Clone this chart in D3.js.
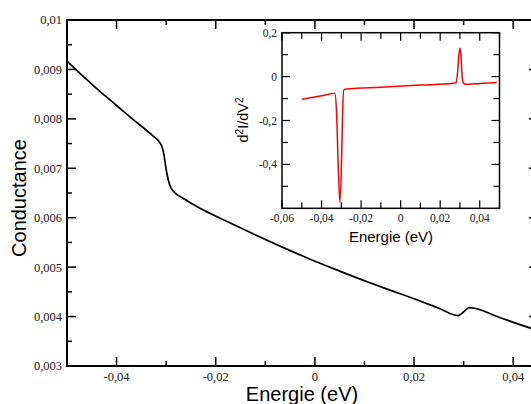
<!DOCTYPE html>
<html><head><meta charset="utf-8">
<script src="https://cdn.jsdelivr.net/npm/d3@7"></script>
<style>
body{margin:0;background:#fff;} svg{display:block;}
.tl{font-family:"Liberation Serif","Times New Roman","DejaVu Serif",serif;fill:#222;}
.al{font-family:"Liberation Sans",Arial,sans-serif;fill:#000;}
</style>
</head><body>
<svg id="c" width="531" height="404"></svg>
<script>
// Main chart data: Conductance vs Energie (eV)
const mainEnergy = [-0.05, -0.0465, -0.0433, -0.04, -0.0367, -0.034, -0.0326, -0.0316, -0.0309, -0.0305, -0.0299, -0.0292, -0.0285, -0.0265, -0.023, -0.0191, -0.013, -0.006, 0, 0.005, 0.0104, 0.015, 0.02, 0.025, 0.0289, 0.0296, 0.0304, 0.0311, 0.0321, 0.037, 0.0437, 0.045];
const mainConductance = [0.00917, 0.00884, 0.00855, 0.00827, 0.00799, 0.00777, 0.00765, 0.00756, 0.00745, 0.0073, 0.00692, 0.00664, 0.00653, 0.00639, 0.00618, 0.00599, 0.0057, 0.00538, 0.00512, 0.00492, 0.00471, 0.00454, 0.00436, 0.00417, 0.00402, 0.00406, 0.00413, 0.00418, 0.00417, 0.00399, 0.00376, 0.00372];
// Inset data: d2I/dV2 vs Energie (eV)
const insetEnergy = [-0.05, -0.04, -0.0333, -0.0324, -0.0316, -0.0307, -0.0299, -0.0294, -0.0287, -0.0273, -0.01, 0.01, 0.0265, 0.028, 0.0288, 0.0295, 0.03, 0.0305, 0.0311, 0.0318, 0.0326, 0.04, 0.0486];
const insetValue = [-0.103, -0.087, -0.0755, -0.166, -0.394, -0.573, -0.394, -0.182, -0.060, -0.057, -0.0485, -0.0387, -0.0305, -0.028, 0.02, 0.10, 0.129, 0.10, 0.0, -0.03, -0.035, -0.031, -0.027];

const mainXTicks = [-0.04, -0.02, 0, 0.02, 0.04];
const mainXMinor = [-0.05, -0.03, -0.01, 0.01, 0.03];
const mainYTicks = [0.003, 0.004, 0.005, 0.006, 0.007, 0.008, 0.009, 0.01];
const mainYMinor = [0.0035, 0.0045, 0.0055, 0.0065, 0.0075, 0.0085, 0.0095];
const insetXTicks = [-0.06, -0.04, -0.02, 0, 0.02, 0.04];
const insetXMinor = [-0.05, -0.03, -0.01, 0.01, 0.03, 0.05];
const insetYTicks = [0.2, 0, -0.2, -0.4];
const insetYMinor = [0.1, -0.1, -0.3, -0.5];

const fmt = v => { if (Math.abs(v) < 1e-12) return "0"; return (+v.toFixed(4)).toString().replace(".", ","); };

const svg = d3.select("#c");

// ---------- Main chart ----------
const mL = 67, mR = 538, mT = 20, mB = 366;
const x = d3.scaleLinear().domain([-0.05, 0.045]).range([mL, mR]);
const y = d3.scaleLinear().domain([0.003, 0.01]).range([mB, mT]);

svg.append("defs").append("clipPath").attr("id","mclip").append("rect")
  .attr("x", mL).attr("y", mT).attr("width", mR - mL).attr("height", mB - mT);

const mainData = mainEnergy.map((e,i)=>[e, mainConductance[i]]);
svg.append("path").datum(mainData)
  .attr("clip-path","url(#mclip)")
  .attr("fill","none").attr("stroke","#000").attr("stroke-width",1.7)
  .attr("d", d3.line().x(d=>x(d[0])).y(d=>y(d[1])).curve(d3.curveMonotoneX));

function ticksAll(g, xs, ys, xsMinor, ysMinor, L, R, T, B, maj, min, sw) {
  const tk = g.append("g").attr("stroke","#000").attr("stroke-width",sw);
  const vx = (arr, len) => arr.forEach(v => {
    tk.append("line").attr("x1",xs.scale(v)).attr("x2",xs.scale(v)).attr("y1",B).attr("y2",B-len);
    tk.append("line").attr("x1",xs.scale(v)).attr("x2",xs.scale(v)).attr("y1",T).attr("y2",T+len);
  });
  const vy = (arr, len) => arr.forEach(v => {
    tk.append("line").attr("y1",ys.scale(v)).attr("y2",ys.scale(v)).attr("x1",L).attr("x2",L+len);
    tk.append("line").attr("y1",ys.scale(v)).attr("y2",ys.scale(v)).attr("x1",R).attr("x2",R-len);
  });
  vx(xs, maj); vx(xsMinor, min); vy(ys, maj); vy(ysMinor, min);
}
function withScale(arr, s){ const a = arr.slice(); a.scale = s; return a; }

ticksAll(svg, withScale(mainXTicks,x), withScale(mainYTicks,y), withScale(mainXMinor,x), withScale(mainYMinor,y), mL, mR, mT, mB, 9, 5, 1.5);
svg.append("rect").attr("x",mL).attr("y",mT).attr("width",mR-mL).attr("height",mB-mT)
  .attr("fill","none").attr("stroke","#000").attr("stroke-width",2);

svg.append("g").selectAll("text").data(mainYTicks).join("text").attr("class","tl")
  .attr("x", mL-5).attr("y", d=>y(d)).attr("dy","0.35em").attr("text-anchor","end")
  .style("font-size","12.5px").text(fmt);
svg.append("g").selectAll("text").data(mainXTicks).join("text").attr("class","tl")
  .attr("x", d=>x(d)).attr("y", 381).attr("text-anchor","middle")
  .style("font-size","12.5px").text(fmt);
svg.append("text").attr("class","al").attr("x",302).attr("y",401).attr("text-anchor","middle")
  .style("font-size","20px").text("Energie (eV)");
svg.append("text").attr("class","al").attr("transform","translate(26,198) rotate(-90)").attr("text-anchor","middle")
  .style("font-size","20px").text("Conductance");

// ---------- Inset ----------
const iL = 282, iR = 499.5, iT = 32.7, iB = 208.3;
const ix = d3.scaleLinear().domain([-0.06, 0.05]).range([iL, iR]);
const iy = d3.scaleLinear().domain([-0.6, 0.2]).range([iB, iT]);
svg.append("rect").attr("x",iL).attr("y",iT).attr("width",iR-iL).attr("height",iB-iT).attr("fill","#fff");
const insetData = insetEnergy.map((e,i)=>[e, insetValue[i]]);
svg.append("path").datum(insetData)
  .attr("fill","none").attr("stroke","#ff0000").attr("stroke-width",1.5)
  .attr("d", d3.line().x(d=>ix(d[0])).y(d=>iy(d[1])).curve(d3.curveMonotoneX));
ticksAll(svg, withScale(insetXTicks,ix), withScale(insetYTicks,iy), withScale(insetXMinor,ix), withScale(insetYMinor,iy), iL, iR, iT, iB, 8, 6, 1.2);
svg.append("rect").attr("x",iL).attr("y",iT).attr("width",iR-iL).attr("height",iB-iT)
  .attr("fill","none").attr("stroke","#000").attr("stroke-width",1.5);
svg.append("g").selectAll("text").data(insetYTicks).join("text").attr("class","tl")
  .attr("x", iL-5).attr("y", d=>iy(d)).attr("dy","0.35em").attr("text-anchor","end")
  .style("font-size","11.5px").text(fmt);
svg.append("g").selectAll("text").data(insetXTicks).join("text").attr("class","tl")
  .attr("x", d=>ix(d)).attr("y", 222).attr("text-anchor","middle")
  .style("font-size","11.5px").text(fmt);
svg.append("text").attr("class","al").attr("x",391).attr("y",242).attr("text-anchor","middle")
  .style("font-size","15px").text("Energie (eV)");
const yl = svg.append("text").attr("class","al").attr("transform","translate(248,120) rotate(-90)").attr("text-anchor","middle")
  .style("font-size","14.5px");
yl.append("tspan").text("d");
yl.append("tspan").attr("baseline-shift","super").style("font-size","10px").text("2");
yl.append("tspan").text("I/dV");
yl.append("tspan").attr("baseline-shift","super").style("font-size","10px").text("2");
</script>
</body></html>
